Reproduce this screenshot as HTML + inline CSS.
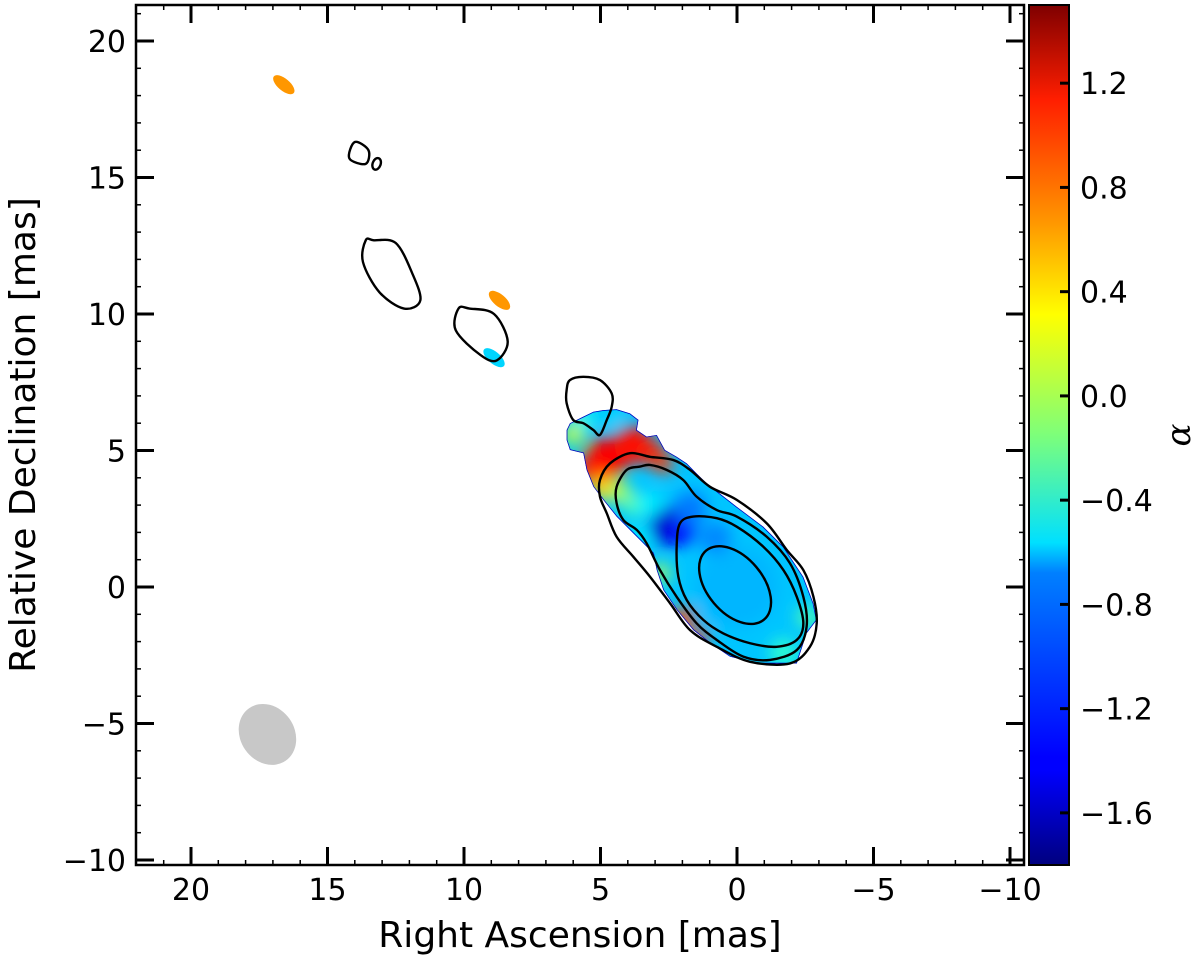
<!DOCTYPE html>
<html><head><meta charset="utf-8"><style>
body{margin:0;background:#fff;}
svg{display:block;font-family:"DejaVu Sans","Liberation Sans",sans-serif;}
</style></head><body>
<svg id="c" width="1200" height="961" viewBox="0 0 1200 961">
<defs>
<linearGradient id="jet" x1="0" y1="1" x2="0" y2="0">
<stop offset="0" stop-color="#00007f"/><stop offset="0.11" stop-color="#0000ff"/><stop offset="0.125" stop-color="#0000ff"/>
<stop offset="0.34" stop-color="#0080ff"/><stop offset="0.375" stop-color="#00e0ff"/><stop offset="0.5" stop-color="#7dff7a"/>
<stop offset="0.64" stop-color="#ffff00"/><stop offset="0.75" stop-color="#ff9400"/><stop offset="0.89" stop-color="#ff1e00"/>
<stop offset="1" stop-color="#7f0000"/>
</linearGradient>
<filter id="blur" x="-50%" y="-50%" width="200%" height="200%"><feGaussianBlur stdDeviation="8"/></filter>
<clipPath id="plotclip"><rect x="136" y="5" width="888" height="860"/></clipPath>
</defs>
<g id="plot" clip-path="url(#plotclip)"></g>
<g id="axes"></g>
</svg>
<script>
const NS='http://www.w3.org/2000/svg';
const X0=737, Y0=587, S=27.3;
function xs(ra){return X0-ra*S;}
function ys(d){return Y0-d*S;}
const CMIN=-1.8, CMAX=1.5;
function cy(a){return 865-(a-CMIN)/(CMAX-CMIN)*860;}
function jet(v){
  const t=Math.max(0,Math.min(1,(v-CMIN)/(CMAX-CMIN)));
  const r=Math.max(0,Math.min(1,1.5-Math.abs(4*t-3)));
  const g=Math.max(0,Math.min(1,1.5-Math.abs(4*t-2)));
  const b=Math.max(0,Math.min(1,1.5-Math.abs(4*t-1)));
  return `rgb(${Math.round(r*255)},${Math.round(g*255)},${Math.round(b*255)})`;
}
// data
const xTicks=[20,15,10,5,0,-5,-10];
const yTicks=[20,15,10,5,0,-5,-10];
const cTicks=[1.2,0.8,0.4,0.0,-0.4,-0.8,-1.2,-1.6];
const cTickLabels=['1.2','0.8','0.4','0.0','\u22120.4','\u22120.8','\u22121.2','\u22121.6'];
const blobRA=[6.24,6.12,5.63,5.26,4.90,4.41,3.92,3.61,3.67,3.31,2.94,2.64,2.21,1.84,1.48,1.11,0.01,-0.96,-1.70,-2.43,-2.80,-2.92,-2.55,-2.19,-0.72,0.26,0.99,1.60,2.21,2.70,2.94,3.07,3.43,3.92,4.41,4.90,5.26,5.51,5.63,6.12,6.24];
const blobDec=[5.75,6.00,6.24,6.42,6.48,6.51,6.36,6.12,5.75,5.51,5.57,5.02,4.77,4.53,4.16,3.80,2.94,2.21,1.48,0.37,-0.60,-1.21,-1.70,-2.80,-2.80,-2.55,-2.06,-1.58,-0.84,-0.11,0.62,1.23,1.60,2.09,2.58,3.19,3.67,4.29,4.90,5.02,5.38];
const patchRA=[4.8,3.8,5.4,3.1,2.7,4.9,4.3,3.8,3.2,2.5,2.0,1.7,0.0,-1.7,2.0,2.8,4.6,6.0,5.6,1.4,-2.6,0.8,3.6];
const patchDec=[4.7,5.2,4.3,4.9,4.5,3.6,3.5,3.0,3.0,2.2,2.0,2.9,0.0,-2.4,-1.2,0.5,6.3,5.6,6.2,-1.9,-1.1,1.8,1.8];
const patchR=[0.8,0.7,0.5,0.45,0.35,0.45,0.4,0.4,0.45,0.7,0.5,0.6,1.5,0.5,0.45,0.35,0.4,0.4,0.35,0.35,0.4,0.6,0.4];
const patchAlpha=[1.1,1.05,1.0,1.0,0.9,0.4,0.0,-0.3,-0.6,-1.55,-1.35,-1.0,-0.8,-0.4,0.85,0.0,-0.7,0.1,-0.5,0.9,-0.3,-0.95,-0.6];
const smallRA=[16.6,8.7,8.9];
const smallDec=[18.4,10.5,8.4];
const smallAlpha=[0.6,0.6,-0.7];
const c1RA=[6.12,5.63,5.02,4.59,4.59,4.77,5.02,5.26,5.63,6.00,6.24,6.24];
const c1Dec=[7.58,7.70,7.58,7.09,6.60,6.12,5.57,5.75,6.00,6.12,6.73,7.22];
const c2RA=[5.02,4.65,3.92,3.19,2.33,1.72,0.99,0.01,-1.09,-1.82,-2.43,-2.80,-2.92,-2.67,-1.94,-0.48,0.74,1.72,2.45,3.19,3.80,4.41,4.77,5.02];
const c2Dec=[3.92,4.53,4.90,4.77,4.65,4.29,3.67,3.19,2.33,1.36,0.62,-0.36,-1.33,-2.19,-2.80,-2.74,-2.19,-1.58,-0.60,0.38,1.11,1.84,2.70,3.31];
const c3RA=[4.41,4.04,3.55,3.19,2.58,1.97,1.48,0.74,0.01,-1.09,-1.94,-2.43,-2.55,-2.19,-1.21,-0.23,0.74,1.48,2.21,2.82,3.31,3.67,4.16,4.41];
const c3Dec=[3.67,4.29,4.41,4.47,4.29,3.92,3.31,2.82,2.58,1.84,0.87,-0.36,-1.45,-2.31,-2.67,-2.55,-1.94,-1.33,-0.36,0.62,1.60,2.09,2.45,3.07];
const c4RA=[2.09,1.60,0.74,0.01,-0.96,-1.70,-2.19,-2.43,-2.19,-1.45,-0.48,0.50,1.23,1.84,2.15,2.21];
const c4Dec=[2.33,2.58,2.52,2.21,1.48,0.62,-0.36,-1.33,-1.94,-2.19,-2.06,-1.70,-1.21,-0.48,0.38,1.48];
const ellRA=[0.07];const ellDec=[0.07];const ellA=[1.65];const ellB=[1.02];const ellAng=[-50];
const isoRA=[[13.3,12.5,11.9,11.6,12.2,13.1,13.7,13.6],[9.8,8.9,8.4,8.8,9.4,10.3,10.2],[14.0,13.5,13.6,14.2]];
const isoDec=[[12.7,12.6,11.5,10.5,10.2,10.8,11.9,12.7],[10.2,10.0,9.0,8.3,8.5,9.4,10.2],[16.3,16.0,15.5,15.7]];
const beamRA=[17.2];const beamDec=[-5.4];

const svg=document.getElementById('c'),plot=document.getElementById('plot'),axes=document.getElementById('axes');
function mk(tag,attrs,parent){const e=document.createElementNS(NS,tag);for(const k in attrs)e.setAttribute(k,attrs[k]);parent.appendChild(e);return e;}
function pts(ra,dec){return ra.map((r,i)=>xs(r)+','+ys(dec[i])).join(' ');}
function smooth(ra,dec){
  const P=ra.map((r,i)=>[xs(r),ys(dec[i])]);const n=P.length;
  let d=`M${P[0][0]},${P[0][1]}`;
  for(let i=0;i<n;i++){const p0=P[(i-1+n)%n],p1=P[i],p2=P[(i+1)%n],p3=P[(i+2)%n];
    d+=` C${p1[0]+(p2[0]-p0[0])/6},${p1[1]+(p2[1]-p0[1])/6} ${p2[0]-(p3[0]-p1[0])/6},${p2[1]-(p3[1]-p1[1])/6} ${p2[0]},${p2[1]}`;}
  return d+'Z';
}

const defs=svg.querySelector('defs');
const cp=mk('clipPath',{id:'blobclip'},defs);
mk('polygon',{points:pts(blobRA,blobDec)},cp);
const bg=mk('g',{'clip-path':'url(#blobclip)'},plot);


mk('polygon',{points:pts(blobRA,blobDec),fill:jet(-0.75)},bg);
const bl=mk('g',{filter:'url(#blur)'},bg);
patchRA.forEach((r,i)=>{
  const e=mk('circle',{cx:xs(r),cy:ys(patchDec[i]),r:patchR[i]*S,fill:jet(patchAlpha[i])},bl);
  
  
});
mk('polygon',{points:pts(blobRA,blobDec),fill:'none',stroke:'#0000c0','stroke-width':1.5},bg);
smallRA.forEach((r,i)=>{
  const e=mk('ellipse',{cx:xs(r),cy:ys(smallDec[i]),rx:13,ry:6,transform:`rotate(40 ${xs(r)} ${ys(smallDec[i])})`,fill:jet(smallAlpha[i])},plot);
  
  
});
const cg=mk('g',{fill:'none',stroke:'#000','stroke-width':2.4},plot);


[[c1RA,c1Dec],[c2RA,c2Dec],[c3RA,c3Dec],[c4RA,c4Dec]].concat(isoRA.map((r,i)=>[r,isoDec[i]])).forEach(([r,d])=>{
  const e=mk('path',{d:smooth(r,d)},cg);
  
  
});
mk('ellipse',{cx:xs(13.2),cy:ys(15.5),rx:4,ry:6,transform:`rotate(20 ${xs(13.2)} ${ys(15.5)})`},cg);
ellRA.forEach((r,i)=>{
  const e=mk('ellipse',{cx:xs(r),cy:ys(ellDec[i]),rx:ellA[i]*S,ry:ellB[i]*S,transform:`rotate(${-ellAng[i]} ${xs(r)} ${ys(ellDec[i])})`},cg);
  
  
});
const beam=mk('ellipse',{cx:xs(beamRA[0]),cy:ys(beamDec[0]),rx:27,ry:32,transform:`rotate(-35 ${xs(beamRA[0])} ${ys(beamDec[0])})`,fill:'#c8c8c8'},plot);



const fr=mk('rect',{x:136,y:5,width:888,height:860,fill:'none',stroke:'#000','stroke-width':2.5},axes);


const tk=mk('g',{stroke:'#000'},axes);
for(let v=-10;v<=22;v++){const x=xs(v);if(x<137||x>1023)continue;const maj=v%5===0;
  mk('line',{x1:x,y1:865,x2:x,y2:865-(maj?18:5),'stroke-width':maj?3:1.5},tk);
  mk('line',{x1:x,y1:5,x2:x,y2:5+(maj?18:5),'stroke-width':maj?3:1.5},tk);}
for(let v=-10;v<=21;v++){const y=ys(v);if(y<6||y>864)continue;const maj=v%5===0;
  mk('line',{x1:136,y1:y,x2:136+(maj?18:5),y2:y,'stroke-width':maj?3:1.5},tk);
  mk('line',{x1:1024,y1:y,x2:1024-(maj?18:5),y2:y,'stroke-width':maj?3:1.5},tk);}
xTicks.forEach(v=>{const t=mk('text',{x:xs(v),y:900,'font-size':30,'text-anchor':'middle'},axes);t.textContent=String(v).replace('-','\u2212');
  });
yTicks.forEach(v=>{const t=mk('text',{x:126,y:ys(v)+11,'font-size':30,'text-anchor':'end'},axes);t.textContent=String(v).replace('-','\u2212');
  });
const xt=mk('text',{x:580,y:947,'font-size':36,'text-anchor':'middle'},axes);xt.textContent='Right Ascension [mas]';

const yt=mk('text',{x:0,y:0,'font-size':36,'text-anchor':'middle',transform:'translate(35 435) rotate(-90)'},axes);yt.textContent='Relative Declination [mas]';

const cb=mk('rect',{x:1029,y:5,width:40,height:860,fill:'url(#jet)',stroke:'#000','stroke-width':2},axes);

cTicks.forEach((v,i)=>{mk('line',{x1:1069,y1:cy(v),x2:1060,y2:cy(v),stroke:'#000','stroke-width':3},axes);
  const t=mk('text',{x:1080,y:cy(v)+11,'font-size':30},axes);t.textContent=cTickLabels[i];
  });
const ct=mk('text',{x:0,y:0,'font-size':34,'font-style':'italic','text-anchor':'middle',transform:'translate(1190 435) rotate(-90)',fill:'#000','font-family':'DejaVu Serif,serif'},axes);ct.textContent='α';

</script>
</body></html>
